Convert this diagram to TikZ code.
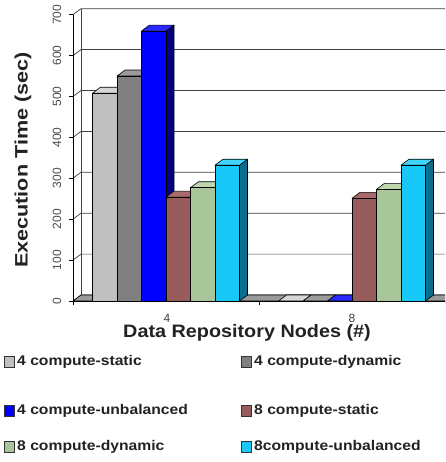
\documentclass[tikz,border=0pt]{standalone}
\usepackage{fontspec}
\setmainfont{Liberation Sans}
\definecolor{cAf}{HTML}{C0C0C0}\definecolor{cAt}{HTML}{D6D6D6}\definecolor{cAs}{HTML}{8A8A8A}
\definecolor{cBf}{HTML}{808080}\definecolor{cBt}{HTML}{9C9C9C}\definecolor{cBs}{HTML}{4E4E4E}
\definecolor{cCf}{HTML}{0000FF}\definecolor{cCt}{HTML}{2A2AFF}\definecolor{cCs}{HTML}{000080}
\definecolor{cDf}{HTML}{995C5C}\definecolor{cDt}{HTML}{A86A6A}\definecolor{cDs}{HTML}{5A3434}
\definecolor{cEf}{HTML}{A8C69A}\definecolor{cEt}{HTML}{BCD6AE}\definecolor{cEs}{HTML}{62785A}
\definecolor{cFf}{HTML}{18C8F8}\definecolor{cFt}{HTML}{40D4FF}\definecolor{cFs}{HTML}{0A6E8C}
\definecolor{floorc}{HTML}{9A9A9A}
\definecolor{txtc}{HTML}{222222}
\newcommand\drawbar[5]{%
  \pgfmathsetmacro\yt{301-0.409*#2}%
  \filldraw[barline, fill=#4] (#1+24.5,301) -- (#1+32.5,295) -- (#1+32.5,\yt-6) -- (#1+24.5,\yt) -- cycle;
  \filldraw[barline, fill=#5] (#1,\yt) -- (#1+8,\yt-6) -- (#1+32.5,\yt-6) -- (#1+24.5,\yt) -- cycle;
  \filldraw[barline, fill=#3] (#1,301) rectangle (#1+24.5,\yt);
}
\begin{document}
\begin{tikzpicture}[x=1pt,y=-1pt,
  barline/.style={draw=black, line width=0.6pt, line join=round},
  gridline/.style={draw=black!75, line width=0.7pt},
  axisline/.style={draw=black, line width=0.8pt},
  ticklbl/.style={font=\fontsize{12}{14}\selectfont, text=black!70, inner sep=0pt},
  catlbl/.style={font=\fontsize{12}{14}\selectfont, text=black!75, inner sep=0pt},
  titlelbl/.style={font=\fontsize{18}{22}\selectfont\bfseries, text=txtc, inner sep=0pt},
  legsq/.style={draw=black!80, line width=0.6pt, minimum size=10.5pt, inner sep=0pt},
  legtxt/.style={font=\fontsize{14}{16}\selectfont\bfseries, text=txtc, inner sep=0pt, anchor=west}]
\useasboundingbox (0,0) rectangle (445,462);
\fill[white] (0,0) rectangle (445,462);
\begin{scope}
\clip (0,0) rectangle (445,462);
% back wall and side-wall gridlines
\draw[gridline] (81,295) -- (81,{301-0.409*700-6});
\foreach \v in {0,100,...,700}{
  \draw[gridline] (73,{301-0.409*\v}) -- (81,{301-0.409*\v-6}) -- (460,{301-0.409*\v-6});
}
% floor
\filldraw[barline, fill=floorc] (73,301) -- (81,295) -- (460,295) -- (452,301) -- cycle;
% bars, group 4
\drawbar{92.5}{508}{cAf}{cAs}{cAt}
\drawbar{117}{550}{cBf}{cBs}{cBt}
\drawbar{141.5}{660}{cCf}{cCs}{cCt}
\drawbar{166}{254}{cDf}{cDs}{cDt}
\drawbar{190.5}{277}{cEf}{cEs}{cEt}
\drawbar{215}{332}{cFf}{cFs}{cFt}
% bars, group 8
\drawbar{278.5}{0}{cAf}{cAs}{cAt}
\drawbar{303}{0}{cBf}{cBs}{cBt}
\drawbar{327.5}{0}{cCf}{cCs}{cCt}
\drawbar{352}{251}{cDf}{cDs}{cDt}
\drawbar{376.5}{273}{cEf}{cEs}{cEt}
\drawbar{401}{332}{cFf}{cFs}{cFt}
% axes
\draw[axisline] (73,301) -- (73,{301-0.409*700});
\foreach \v in {0,100,...,700}{
  \draw[axisline] (69,{301-0.409*\v}) -- (73,{301-0.409*\v});
}
\draw[axisline] (73,301) -- (460,301);
\foreach \xx in {73,259,445}{
  \draw[axisline] (\xx,301) -- (\xx,305);
}
\end{scope}
% tick labels
\foreach \v in {0,100,...,700}{
  \node[ticklbl, rotate=90] (yl\v) at (57,{301-0.409*\v}) {\v};
}
\node[catlbl] (x4) at (167,318) {4};
\node[catlbl] (x8) at (352,318) {8};
% titles
\node[titlelbl, rotate=90] (ytitle) at (23,160) {\scalebox{1.2}[1]{Execution Time (sec)}};
\node[titlelbl] (xtitle) at (247,333) {\scalebox{1.1}[1]{Data Repository Nodes (\#)}};
% legend
\node[legsq, fill=cAf] (s1) at (9.5,362) {};
\node[legtxt] (t1) at (17,362) {\scalebox{1.12}[1]{4 compute-static}};
\node[legsq, fill=cBf] (s2) at (246.5,362) {};
\node[legtxt] (t2) at (254,362) {\scalebox{1.12}[1]{4 compute-dynamic}};
\node[legsq, fill=cCf] (s3) at (9.5,411) {};
\node[legtxt] (t3) at (17,411) {\scalebox{1.12}[1]{4 compute-unbalanced}};
\node[legsq, fill=cDf] (s4) at (246.5,411) {};
\node[legtxt] (t4) at (254,411) {\scalebox{1.12}[1]{8 compute-static}};
\node[legsq, fill=cEf] (s5) at (9.5,447) {};
\node[legtxt] (t5) at (17,447) {\scalebox{1.12}[1]{8 compute-dynamic}};
\node[legsq, fill=cFf] (s6) at (246.5,447) {};
\node[legtxt] (t6) at (254,447) {\scalebox{1.12}[1]{8compute-unbalanced}};
\end{tikzpicture}
\end{document}
